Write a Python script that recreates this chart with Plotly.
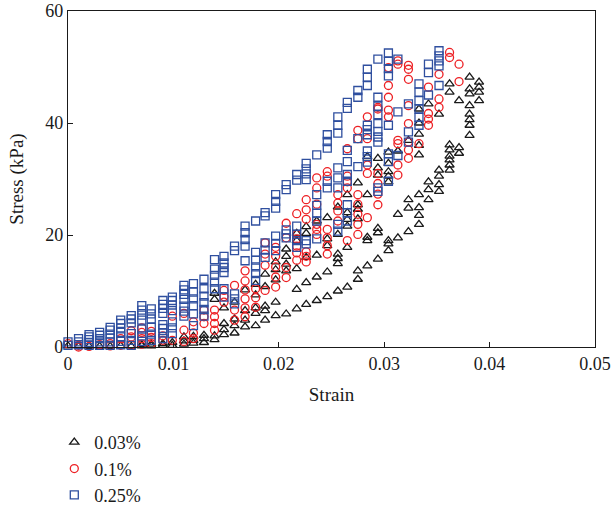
import plotly.graph_objects as go

STRAIN_COLS = [0, 0.001, 0.002, 0.003, 0.004, 0.005, 0.006, 0.007, 0.0079, 0.009,
               0.0099, 0.011, 0.0119, 0.0129, 0.0139, 0.0148, 0.0158, 0.0168, 0.0178, 0.0187,
               0.0197, 0.0207, 0.0217, 0.0226, 0.0236, 0.0246, 0.0256, 0.0265, 0.0275, 0.0284,
               0.0294, 0.0304, 0.0313, 0.0323, 0.0333, 0.0342, 0.0352, 0.0362, 0.0371, 0.0381,
               0.039]

# Stress values (kPa) in each strain column, series 0.03%
TRI_STRESS = [
    [0.2], [0.1], [0.1], [0.1], [0.1], [0.2], [0.1], [0.2, 0.4], [0.2, 0.5], [0.3, 0.6],
    [0.3, 0.8], [0.5, 1.1, 1.8], [0.7, 1.2, 1.9], [0.8, 1.5, 2.1], [1.3, 2.0, 8.5, 9.6],
    [2.2, 3.1, 4.2, 7.0], [2.5, 3.8, 5.0, 8.0], [3.6, 4.8, 6.5, 10.2],
    [3.8, 6.0, 7.0, 9.3, 11.2], [4.8, 6.5, 7.3, 10.8, 13.0],
    [5.6, 8.0, 12.0, 13.8, 15.2], [5.9, 13.6, 14.8, 16.2, 17.5],
    [6.8, 10.3, 14.0, 19.0, 20.3], [7.6, 11.5, 16.0, 20.3, 21.5],
    [8.3, 12.5, 16.4, 22.5], [9.0, 13.4, 18.1, 19.3, 23.1],
    [10.0, 14.9, 15.8, 16.6, 20.1, 25.0], [10.7, 17.8, 21.6, 22.8, 24.0, 27.2],
    [12.1, 13.6, 22.9, 24.6, 25.4, 29.3], [14.5, 19.0, 19.6, 27.2, 34.0],
    [15.7, 20.4, 21.2, 30.7, 32.0, 33.7], [17.2, 18.4, 19.0, 29.5, 30.5, 31.3, 32.8, 34.8],
    [19.5, 23.7, 35.0], [20.6, 24.8, 26.3, 36.9],
    [21.9, 23.5, 24.9, 27.2, 34.3, 36.0, 38.0, 40.0, 42.5], [26.3, 28.1, 29.5, 43.4],
    [27.8, 29.0, 30.5, 31.6, 41.6], [31.6, 32.5, 33.4, 34.1, 35.2, 36.1, 45.5, 47.0],
    [34.6, 35.6, 44.0], [37.8, 39.6, 40.6, 41.6, 43.1, 45.2, 46.1, 48.2],
    [44.0, 45.5, 46.4, 47.3],
]

# series 0.1%
CIR_STRESS = [
    [0.6], [0.0, 0.3], [0.1], [0.4], [0.2, 0.6], [0.3, 1.5], [0.3, 1.8, 2.9],
    [0.5, 1.5, 2.6, 3.4], [0.6, 1.7, 2.8], [1.2, 2.0], [1.2, 5.5], [1.0, 3.0, 6.0],
    [1.5, 2.5, 4.5], [4.2, 5.4, 6.6], [3.0, 4.2, 5.4, 6.6], [8.0, 9.0, 10.1],
    [4.8, 6.6, 11.0], [5.4, 7.0, 8.6, 10.2, 11.8, 13.6], [7.1, 8.8, 10.4],
    [10.1, 14.6, 16.6, 18.6], [10.7, 12.5, 14.3, 16.2, 17.8], [12.4, 14.2, 19.5, 22.1],
    [15.5, 16.8, 18.0, 19.3, 20.1, 23.8], [15.2, 16.2, 17.0, 22.8, 24.5, 26.3],
    [20.1, 21.0, 21.9, 25.5, 28.4, 30.2], [16.6, 18.1, 19.5, 21.0, 30.5, 31.3],
    [22.5, 24.3, 25.7, 27.2], [19.0, 28.4, 29.5, 30.5, 35.4],
    [20.1, 21.9, 23.7, 25.5, 27.2, 37.2, 38.7], [23.1, 31.0, 32.5, 37.2, 41.1],
    [25.4, 27.3, 29.2, 31.0, 42.5, 42.8], [41.1, 42.3, 44.6, 46.7, 49.9],
    [30.7, 32.5, 36.3, 36.9, 50.5, 51.1],
    [33.7, 35.2, 36.6, 39.9, 43.1, 47.8, 49.6, 50.3], [36.3],
    [39.6, 40.7, 41.7, 46.4], [42.8, 44.3, 48.7], [51.7, 52.6], [47.4, 50.5], [], [],
]

# series 0.25%
SQU_STRESS = [
    [0.3, 0.9], [0.4, 0.9, 1.5], [0.3, 0.8, 1.3, 1.8, 2.2], [0.3, 0.9, 1.5, 2.1, 2.6],
    [0.3, 0.9, 1.6, 2.3, 3.0, 3.5], [0.4, 1.0, 1.8, 2.6, 3.4, 4.2, 4.8],
    [0.3, 1.2, 2.4, 4.3, 5.0, 5.6], [1.0, 2.0, 3.2, 4.8, 5.7, 6.6, 7.4],
    [1.2, 2.3, 3.5, 5.0, 5.9, 6.8], [1.5, 2.5, 3.3, 4.0, 6.0, 6.9, 7.6, 8.3],
    [2.4, 3.4, 4.5, 6.5, 7.5, 8.3, 8.9], [5.5, 6.4, 7.3, 8.5, 9.4, 10.2, 11.0],
    [3.8, 5.9, 7.4, 8.6, 9.8, 11.3], [5.5, 6.7, 7.9, 9.1, 10.4, 12.1],
    [10.4, 11.6, 12.8, 13.9, 15.6], [8.9, 10.4, 13.3, 14.2, 15.0, 16.2],
    [7.7, 8.6, 9.5, 17.2, 18.0], [15.4, 18.0, 19.2, 20.4, 21.6],
    [11.9, 13.1, 14.3, 15.5, 16.9, 22.5], [16.0, 17.3, 18.6, 23.4, 24.0],
    [17.2, 18.5, 19.8, 24.8, 26.0, 27.2], [19.5, 20.2, 20.9, 28.1, 29.0],
    [17.8, 19.0, 20.1, 21.6, 29.8, 30.8], [18.4, 19.0, 29.9, 30.9, 31.8, 32.8],
    [19.3, 22.5, 23.9, 25.3, 27.2, 34.3], [28.4, 29.6, 35.5, 36.7, 37.9],
    [20.7, 21.9, 28.4, 30.2, 32.0, 38.2, 39.6, 41.1],
    [22.5, 24.0, 25.4, 29.6, 30.8, 33.1, 35.1, 42.6, 43.7], [32.2, 37.2, 44.6, 45.8],
    [33.0, 34.0, 35.0, 37.9, 38.8, 39.6, 46.7, 48.2, 49.6],
    [27.8, 28.4, 36.6, 37.5, 38.5, 39.9, 41.5, 43.0, 44.6, 51.4],
    [29.6, 33.1, 34.5, 39.6, 48.4, 49.7, 51.0, 52.5], [34.2, 42.0, 51.4],
    [36.6, 38.4, 43.4], [39.6, 41.0, 42.5, 44.0, 45.5, 47.0], [45.0, 49.0, 50.5],
    [46.7, 50.2, 51.1, 52.0, 52.9], [], [], [], [],
]

SERIES_NAMES = ["0.03%", "0.1%", "0.25%"]
X_TICKS = [0, 0.01, 0.02, 0.03, 0.04, 0.05]
X_TICK_TEXT = ["0", "0.01", "0.02", "0.03", "0.04", "0.05"]
Y_TICKS = [0, 20, 40, 60]


def flatten(cols):
    xs, ys = [], []
    for sx, vals in zip(STRAIN_COLS, cols):
        for v in vals:
            xs.append(sx)
            ys.append(v)
    return xs, ys


FONT = "Liberation Serif, DejaVu Serif, serif"
styles = [
    dict(symbol="triangle-up-open", color="#1a1a1a", size=8),
    dict(symbol="circle-open", color="#ed2024", size=8),
    dict(symbol="square-open", color="#2f4f9f", size=8),
]

fig = go.Figure()
for name, cols, st in zip(SERIES_NAMES, [TRI_STRESS, CIR_STRESS, SQU_STRESS], styles):
    xs, ys = flatten(cols)
    fig.add_trace(go.Scatter(
        x=xs, y=ys, mode="markers", name=name, cliponaxis=False,
        marker=dict(symbol=st["symbol"], size=st["size"], color=st["color"],
                    line=dict(width=1.3, color=st["color"])),
    ))

fig.update_layout(
    width=613, height=512,
    margin=dict(l=68, r=18, t=11, b=165, autoexpand=False),
    paper_bgcolor="white", plot_bgcolor="white",
    font=dict(family=FONT, size=18, color="#1a1a1a"),
    showlegend=True,
    legend=dict(x=-0.026, y=-0.229, xanchor="left", yanchor="top",
                font=dict(family=FONT, size=18, color="#1a1a1a"),
                bgcolor="rgba(0,0,0,0)", tracegroupgap=0, itemwidth=30),
)
fig.update_xaxes(
    range=[0, 0.05], tickvals=X_TICKS, ticktext=X_TICK_TEXT, automargin=False,
    ticks="inside", ticklen=5, tickwidth=1, tickcolor="#1a1a1a",
    showline=True, linecolor="#1a1a1a", linewidth=1.2, mirror=True,
    showgrid=False, zeroline=False, ticklabeloverflow="allow",
    title=dict(text="Strain", font=dict(family=FONT, size=19), standoff=14),
    tickfont=dict(family=FONT, size=18),
)
fig.update_yaxes(
    range=[0, 60], tickvals=Y_TICKS, automargin=False,
    ticks="inside", ticklen=5, tickwidth=1, tickcolor="#1a1a1a",
    showline=True, linecolor="#1a1a1a", linewidth=1.2, mirror=True,
    showgrid=False, zeroline=False, ticklabeloverflow="allow",
    title=dict(text="Stress (kPa)", font=dict(family=FONT, size=19), standoff=16),
    tickfont=dict(family=FONT, size=18),
)

fig.write_html(
    "out.html",
    config={"displayModeBar": False},
    post_script="document.body.style.margin='0';document.body.style.overflow='hidden';",
)
